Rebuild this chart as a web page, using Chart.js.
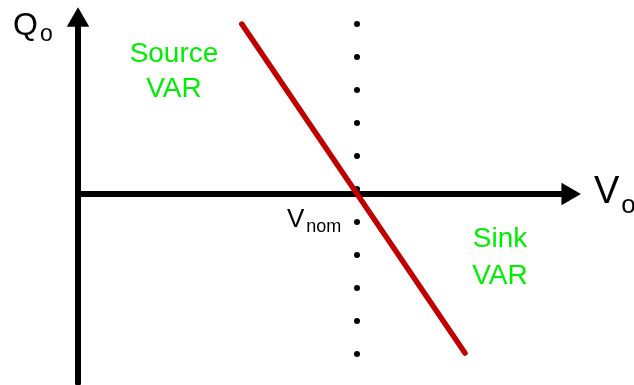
<!DOCTYPE html>
<html>
<head>
<meta charset="utf-8">
<script src="https://cdn.jsdelivr.net/npm/chart.js@4.4.0/dist/chart.umd.min.js"></script>
<style>
    html, body { margin: 0; padding: 0; background: #fff; }
    #wrap { width: 634px; height: 385px; }
</style>
</head>
<body>
<div id="wrap"><canvas id="droopChart"></canvas></div>
<script>
// V axis origin = 0, Vnom = 1 ; Q = 0 on the V axis
const droopV = [0.587, 1.387];
const droopQ = [1.030, -0.964];

// dotted marker at Vnom
const nomV = 1.0;
const nomQ = [1.03, 0.83, 0.63, 0.43, 0.23, 0.03, -0.17, -0.37, -0.57, -0.77, -0.97];

// axis extents (arrow heads sit at the ends)
const axisVEnd = 1.756;
const axisQTop = 1.053;
const axisQBottom = -1.145;

// visible window
const xRange = [-0.2796, 1.9928];
const yRange = [-1.1576, 1.1758];

// labels: text, subscript text, anchor in V/Q units
const labelMain = ['Q', 'V', 'V', 'Source\nVAR', 'Sink\nVAR'];
const labelSub = ['o', 'o', 'nom', '', ''];
const labelV = [-0.233, 1.849, 0.749, 0.344, 1.5125];
const labelQ = [0.964, -0.055, -0.200, 0.800, -0.321];

const STYLE = {
    font: '"Liberation Sans", Arial, sans-serif',
    black: '#000',
    red: '#c00000',
    green: '#00ee00'
};

// ================= LABEL PLUGIN =================
const labelPlugin = {
    id: 'droopLabels',
    afterDatasetsDraw(chart) {
        const ctx = chart.ctx;
        const sx = chart.scales.x, sy = chart.scales.y;
        // per-label look: size, sub size, sub drop, colour, align
        const looks = [
            { size: 32, sub: 23, drop: 6, color: STYLE.black, align: 'left' },
            { size: 38, sub: 26, drop: 10, color: STYLE.black, align: 'left' },
            { size: 26, sub: 18, drop: 5, color: STYLE.black, align: 'left' },
            { size: 28, sub: 0, color: STYLE.green, align: 'center', lh: 35 },
            { size: 28, sub: 0, color: STYLE.green, align: 'center', lh: 37 }
        ];
        ctx.save();
        ctx.textBaseline = 'alphabetic';
        labelMain.forEach((txt, i) => {
            const lk = looks[i];
            const x = sx.getPixelForValue(labelV[i]);
            const y = sy.getPixelForValue(labelQ[i]);
            ctx.fillStyle = lk.color;
            ctx.font = lk.size + 'px ' + STYLE.font;
            ctx.textAlign = lk.align;
            const lines = txt.split('\n');
            lines.forEach((ln, j) => ctx.fillText(ln, x, y + j * (lk.lh || 0)));
            if (labelSub[i]) {
                const w = ctx.measureText(lines[0]).width;
                ctx.font = lk.sub + 'px ' + STYLE.font;
                ctx.textAlign = 'left';
                ctx.fillText(labelSub[i], x + w + 2, y + lk.drop);
            }
        });
        ctx.restore();
    }
};

// ================= CHART =================
function init() {
    const ctx = document.getElementById('droopChart').getContext('2d');

    new Chart(ctx, {
        type: 'scatter',
        data: {
            datasets: [{
                // droop characteristic
                data: droopV.map((v, i) => ({ x: v, y: droopQ[i] })),
                showLine: true,
                borderColor: STYLE.red,
                borderWidth: 5.5,
                borderCapStyle: 'round',
                pointRadius: 0,
                clip: false
            }, {
                // V axis arrow head
                data: [{ x: axisVEnd, y: 0 }],
                pointStyle: 'triangle',
                rotation: 90,
                pointRadius: 13,
                backgroundColor: STYLE.black,
                borderWidth: 0,
                clip: false
            }, {
                // Q axis arrow head
                data: [{ x: 0, y: axisQTop }],
                pointStyle: 'triangle',
                rotation: 0,
                pointRadius: 13,
                backgroundColor: STYLE.black,
                borderWidth: 0,
                clip: false
            }, {
                // V axis
                data: [{ x: 0, y: 0 }, { x: axisVEnd, y: 0 }],
                showLine: true,
                borderColor: STYLE.black,
                borderWidth: 6,
                pointRadius: 0,
                clip: false
            }, {
                // Q axis
                data: [{ x: 0, y: axisQBottom }, { x: 0, y: axisQTop }],
                showLine: true,
                borderColor: STYLE.black,
                borderWidth: 6,
                borderCapStyle: 'round',
                pointRadius: 0,
                clip: false
            }, {
                // Vnom marker dots
                data: nomQ.map(q => ({ x: nomV, y: q })),
                pointStyle: 'circle',
                pointRadius: 3,
                backgroundColor: STYLE.black,
                borderWidth: 0,
                clip: false
            }]
        },
        options: {
            responsive: true,
            maintainAspectRatio: false,
            animation: false,
            layout: { padding: 0, autoPadding: false },
            plugins: {
                legend: { display: false },
                tooltip: { enabled: false }
            },
            scales: {
                x: { type: 'linear', min: xRange[0], max: xRange[1], display: false },
                y: { type: 'linear', min: yRange[0], max: yRange[1], display: false }
            }
        },
        plugins: [labelPlugin]
    });
}

window.addEventListener('DOMContentLoaded', init);
</script>
</body>
</html>
